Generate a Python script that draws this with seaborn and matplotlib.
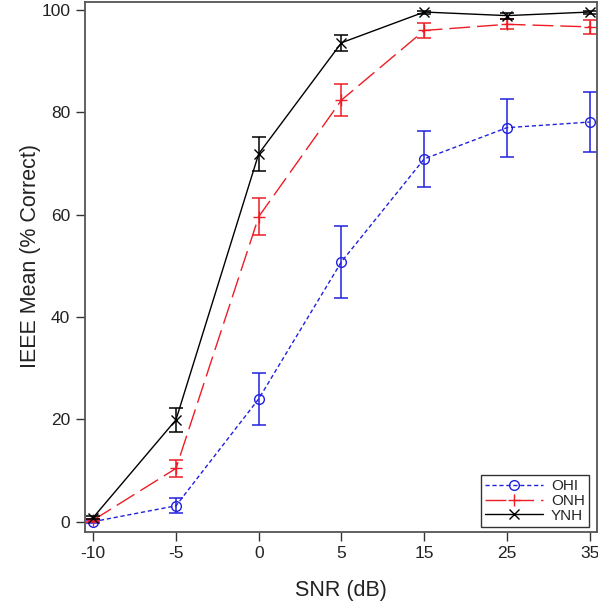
import numpy as np
import pandas as pd
import seaborn as sns
import matplotlib.pyplot as plt

snr_labels = ['-10', '-5', '0', '5', '15', '25', '35']

ohi_mean = [0.0, 3.1, 24.0, 50.8, 70.9, 77.0, 78.1]
ohi_err = [0.3, 1.5, 5.1, 7.0, 5.5, 5.7, 5.8]
onh_mean = [0.3, 10.4, 59.6, 82.4, 96.0, 97.2, 96.7]
onh_err = [0.3, 1.7, 3.6, 3.1, 1.4, 1.0, 1.3]
ynh_mean = [0.8, 19.9, 71.9, 93.6, 99.6, 98.9, 99.6]
ynh_err = [0.3, 2.4, 3.3, 1.6, 0.3, 0.6, 0.3]

groups = ['OHI', 'ONH', 'YNH']

sns.set_theme()
sns.set_style("white")
plt.rcParams['font.family'] = ['Liberation Sans', 'DejaVu Sans']

fig = plt.figure(figsize=(5.98, 6.01), dpi=100)
ax = fig.add_axes([0.142, 0.115, 0.856, 0.882])

xpos = np.arange(len(snr_labels))
df = pd.DataFrame({
    'x': np.tile(xpos, 3),
    'mean': ohi_mean + onh_mean + ynh_mean,
    'err': ohi_err + onh_err + ynh_err,
    'group': np.repeat(groups, len(snr_labels)),
})

styles = {
    'OHI': dict(color='#2020e0', ls=(0, (3, 2)), marker='o', ms=7),
    'ONH': dict(color='#ee1c24', ls=(0, (15, 5)), marker='+', ms=8),
    'YNH': dict(color='black', ls='-', marker='x', ms=7),
}

for g in groups:
    st = styles[g]
    sub = df[df['group'] == g]
    ax.errorbar(sub['x'], sub['mean'], yerr=sub['err'], fmt='none',
                ecolor=st['color'], elinewidth=1.1, capsize=5, capthick=1.1)
    sns.lineplot(x=sub['x'], y=sub['mean'], ax=ax, color=st['color'],
                 linewidth=1.0, linestyle=st['ls'], marker=st['marker'],
                 markersize=st['ms'], markerfacecolor='none',
                 markeredgecolor=st['color'], markeredgewidth=1.0,
                 errorbar=None, label=g, legend=False)

ax.set_xlim(-0.1, 6.085)
ax.set_ylim(-2, 101.6)
ax.set_xticks(xpos)
ax.set_xticklabels(snr_labels)
ax.set_yticks([0, 20, 40, 60, 80, 100])
ax.tick_params(axis='both', direction='out', length=6.5, width=1,
               color='#333333', labelsize=12.5, labelcolor='#222222',
               bottom=True, left=True, pad=4)
for s in ax.spines.values():
    s.set_color('#555555')
    s.set_linewidth(1.3)

ax.set_xlabel('SNR (dB)', fontsize=15.5, labelpad=13, color='#222222')
ax.set_ylabel('IEEE Mean (% Correct)', fontsize=15.5, color='#222222')
ax.yaxis.set_label_coords(-0.086, 0.521)

leg = ax.legend(loc='lower right', bbox_to_anchor=(0.984, 0.01),
                fontsize=11, frameon=True, fancybox=False,
                handlelength=3.8, borderpad=0.25, labelspacing=0.05,
                borderaxespad=0.0, handletextpad=0.5)
leg.get_frame().set_edgecolor('black')
leg.get_frame().set_linewidth(1.0)

fig.savefig('out.png', dpi=100)
